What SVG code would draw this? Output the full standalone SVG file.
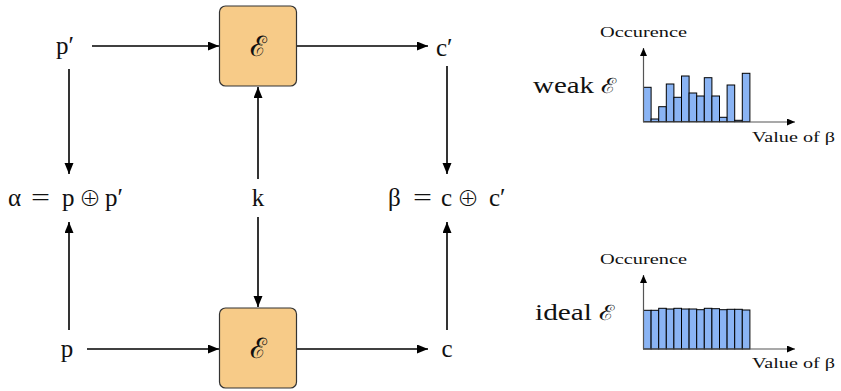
<svg xmlns="http://www.w3.org/2000/svg" width="841" height="391" viewBox="0 0 841 391">
<style>
.t{font-family:"Liberation Serif","DejaVu Serif",serif;fill:#111}
.m{font-size:25px}
.s{font-size:15px}
.o{font-family:"Noto Sans CJK SC","DejaVu Sans",sans-serif;font-weight:200;font-size:22px;fill:#111}
.e{font-family:"DejaVu Serif",serif;font-size:28px;fill:#111}
.box{fill:#f7cb88;stroke:#333;stroke-width:1.2}
.c{stroke:#000;stroke-width:1.6;fill:none;marker-end:url(#ah)}
.ax{stroke:#555;stroke-width:1.2;fill:none;marker-end:url(#ah2)}
.bar{fill:#8ab4f4;stroke:#000;stroke-width:1}
</style>
<defs>
<marker id="ah" markerUnits="userSpaceOnUse" markerWidth="12" markerHeight="10" refX="11" refY="4.5" orient="auto"><path d="M0,0 L11,4.5 L0,9 z" fill="#000"/></marker>
<marker id="ah2" markerUnits="userSpaceOnUse" markerWidth="10" markerHeight="8" refX="8" refY="3.5" orient="auto"><path d="M0,0 L8,3.5 L0,7 z" fill="#000"/></marker>
</defs>
<rect width="841" height="391" fill="#fff"/>
<g id="connectors">
<line class="c" x1="92" y1="46" x2="219" y2="46"/>
<line class="c" x1="297" y1="46" x2="428" y2="46"/>
<line class="c" x1="69" y1="69" x2="69" y2="174"/>
<line class="c" x1="258" y1="179" x2="258" y2="87"/>
<line class="c" x1="447" y1="66" x2="447" y2="174"/>
<line class="c" x1="69" y1="330" x2="69" y2="222"/>
<line class="c" x1="258" y1="217" x2="258" y2="307"/>
<line class="c" x1="447" y1="330" x2="447" y2="222"/>
<line class="c" x1="87" y1="349" x2="219" y2="349"/>
<line class="c" x1="297" y1="349" x2="428" y2="349"/>
</g>
<g id="enc_top"><rect class="box" x="219.5" y="6" width="77" height="80" rx="6"/><text class="e" x="258" y="56" text-anchor="middle">ℰ</text></g>
<g id="enc_bottom"><rect class="box" x="219.5" y="308" width="77" height="80" rx="6"/><text class="e" x="258" y="358" text-anchor="middle">ℰ</text></g>
<g id="p_prime"><text class="t m" x="56" y="54">p′</text></g>
<g id="c_prime"><text class="t m" x="436" y="56">c′</text></g>
<g id="alpha">
<text class="t m" x="8" y="206">α</text>
<text class="t m" x="31" y="206" textLength="19" lengthAdjust="spacingAndGlyphs">=</text>
<text class="t m" x="62" y="206">p</text>
<text class="o" x="79" y="206">⊕</text>
<text class="t m" x="105" y="206">p′</text>
</g>
<g id="k"><text class="t m" x="258" y="206" text-anchor="middle">k</text></g>
<g id="beta">
<text class="t m" x="388" y="206">β</text>
<text class="t m" x="413" y="206" textLength="19" lengthAdjust="spacingAndGlyphs">=</text>
<text class="t m" x="441" y="206">c</text>
<text class="o" x="457" y="206">⊕</text>
<text class="t m" x="489" y="206">c′</text>
</g>
<g id="p"><text class="t m" x="67" y="357" text-anchor="middle">p</text></g>
<g id="c"><text class="t m" x="447" y="357" text-anchor="middle">c</text></g>
<g id="chart_weak">
<text class="t" style="font-size:24px" x="533" y="93" textLength="84" lengthAdjust="spacingAndGlyphs">weak <tspan style="font-family:'DejaVu Serif',serif;font-size:21px">ℰ</tspan></text>
<text class="t s" x="600" y="37" textLength="87" lengthAdjust="spacingAndGlyphs">Occurence</text>
<text class="t s" x="752" y="142" textLength="83" lengthAdjust="spacingAndGlyphs">Value of β</text>
<rect class="bar" x="643.5" y="87.3" width="7.6" height="34.4"/>
<rect class="bar" x="651.1" y="119" width="7.6" height="2.7"/>
<rect class="bar" x="658.7" y="106.7" width="7.6" height="15"/>
<rect class="bar" x="666.3" y="84" width="7.6" height="37.7"/>
<rect class="bar" x="673.9" y="97.3" width="7.6" height="24.4"/>
<rect class="bar" x="681.5" y="76" width="7.6" height="45.7"/>
<rect class="bar" x="689.1" y="93" width="7.6" height="28.7"/>
<rect class="bar" x="696.7" y="96" width="7.6" height="25.7"/>
<rect class="bar" x="704.3" y="77.7" width="7.6" height="44"/>
<rect class="bar" x="711.9" y="96" width="7.6" height="25.7"/>
<rect class="bar" x="719.5" y="117.3" width="7.6" height="4.4"/>
<rect class="bar" x="727.1" y="85" width="7.6" height="36.7"/>
<rect class="bar" x="734.7" y="120.3" width="7.6" height="1.4"/>
<rect class="bar" x="742.3" y="73.3" width="7.6" height="48.4"/>
<line class="ax" x1="643.5" y1="122" x2="643.5" y2="48"/>
<line class="ax" x1="643" y1="122" x2="795" y2="122"/>
</g>
<g id="chart_ideal">
<text class="t" style="font-size:24px" x="535" y="320" textLength="80" lengthAdjust="spacingAndGlyphs">ideal <tspan style="font-family:'DejaVu Serif',serif;font-size:21px">ℰ</tspan></text>
<text class="t s" x="600" y="264" textLength="87" lengthAdjust="spacingAndGlyphs">Occurence</text>
<text class="t s" x="752" y="368" textLength="83" lengthAdjust="spacingAndGlyphs">Value of β</text>
<rect class="bar" x="643.5" y="310.3" width="7.6" height="38.7"/>
<rect class="bar" x="651.1" y="310.3" width="7.6" height="38.7"/>
<rect class="bar" x="658.7" y="308.3" width="7.6" height="40.7"/>
<rect class="bar" x="666.3" y="309" width="7.6" height="40"/>
<rect class="bar" x="673.9" y="308.3" width="7.6" height="40.7"/>
<rect class="bar" x="681.5" y="309" width="7.6" height="40"/>
<rect class="bar" x="689.1" y="309" width="7.6" height="40"/>
<rect class="bar" x="696.7" y="309.7" width="7.6" height="39.3"/>
<rect class="bar" x="704.3" y="308.3" width="7.6" height="40.7"/>
<rect class="bar" x="711.9" y="308.7" width="7.6" height="40.3"/>
<rect class="bar" x="719.5" y="309.7" width="7.6" height="39.3"/>
<rect class="bar" x="727.1" y="309.3" width="7.6" height="39.7"/>
<rect class="bar" x="734.7" y="309.3" width="7.6" height="39.7"/>
<rect class="bar" x="742.3" y="310" width="7.6" height="39"/>
<line class="ax" x1="643.5" y1="349" x2="643.5" y2="275"/>
<line class="ax" x1="643" y1="349" x2="795" y2="349"/>
</g>
</svg>
